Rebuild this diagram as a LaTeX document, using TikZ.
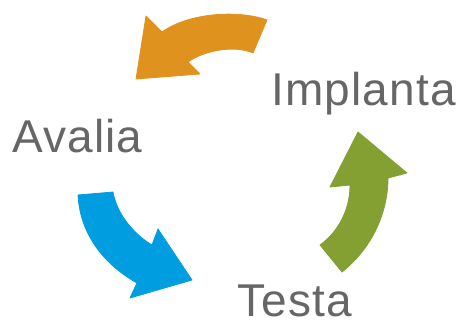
\documentclass[tikz,border=0pt]{standalone}
\usepackage{fontspec}
\setmainfont{Liberation Sans}[LetterSpace=2.5]
\definecolor{laranja}{RGB}{223,147,30}
\definecolor{azul}{RGB}{0,158,224}
\definecolor{verde}{RGB}{133,160,50}
\definecolor{cinza}{RGB}{102,102,102}
\begin{document}
\begin{tikzpicture}[x=1pt, y=-1pt,
		etapa/.style={anchor=base west, inner sep=0pt, text=cinza, font=\fontsize{46}{50}\selectfont},
		seta/.style={line join=round, draw=#1, line width=0.8pt, fill=#1}]
	\useasboundingbox (0,0) rectangle (460,324);
	% Orange arrow: Implanta -> Avalia
	\fill[seta=laranja] (267,20) .. controls (240,10) and (190,12) .. (162,32)
		-- (146,16) -- (136,79) -- (200,74) -- (188,62)
		.. controls (205,50) and (235,45) .. (253,53) -- cycle;
	% Blue arrow: Avalia -> Testa
	\fill[seta=azul] (78,195) -- (113,192) .. controls (117,215) and (135,235) .. (152,245)
		-- (158,229) -- (192,280) -- (130,298) -- (137,283)
		.. controls (105,265) and (80,235) .. (78,195) -- cycle;
	% Green arrow: Testa -> Implanta
	\fill[seta=verde] (342,272) .. controls (370,250) and (388,215) .. (388,178)
		-- (407,173) -- (358,132) -- (330,187) -- (350,185)
		.. controls (350,210) and (338,232) .. (320,245) -- cycle;
	% Labels
	\node[etapa] (implanta) at (271,105) {Implanta};
	\node[etapa] (avalia) at (12,152) {Avalia};
	\node[etapa] (testa) at (237,316) {Testa};
\end{tikzpicture}
\end{document}
